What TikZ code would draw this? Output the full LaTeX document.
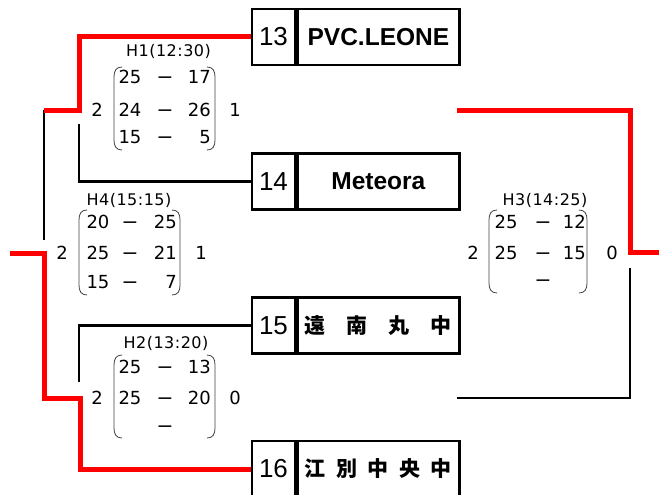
\documentclass[tikz,border=0pt]{standalone}
\usepackage{fontspec}
\setmainfont{Liberation Sans}
\newfontfamily\jpfont{Noto Sans CJK JP}
\newfontfamily\scorefont{DejaVu Sans}
\newfontfamily\tagfont[LetterSpace=3]{DejaVu Sans}
\usetikzlibrary{positioning}

\begin{document}
\begin{tikzpicture}[x=1pt,y=-1pt]
\tikzstyle{every node}+=[inner sep=0pt]
\tikzstyle{teamno}=[draw,line width=2.4pt,minimum width=43pt,minimum height=56pt,font=\fontsize{26}{26}\selectfont]
\tikzstyle{teamname}=[draw,line width=2.4pt,minimum width=162pt,minimum height=56pt,font=\bfseries\fontsize{24.5}{24.5}\selectfont]
\tikzstyle{matchtag}=[anchor=base,font=\tagfont\fontsize{16}{16}\selectfont]
\tikzstyle{setno}=[font=\scorefont\fontsize{18}{18}\selectfont]
\tikzstyle{setdash}=[anchor=base,font=\fontsize{23}{23}\selectfont]
\tikzstyle{paren}=[line width=0.8pt,black!75]
\tikzstyle{wonline}=[red,line width=5pt]
\tikzstyle{lostline}=[black,line width=2.4pt]
\useasboundingbox (0,0) rectangle (659,495);
% teams
\node [teamno] (n13) at (273.5,37) {13};
\node [teamname,right=0pt of n13] (t13) {PVC.LEONE};
\node [teamno] (n14) at (273.5,181.5) {14};
\node [teamname,right=0pt of n14] (t14) {Meteora};
\node [teamno] (n15) at (273.5,325.5) {15};
\node [teamname,right=0pt of n15] (t15) {\jpfont\fontsize{21}{21}\selectfont 遠　南　丸　中};
\node [teamno] (n16) at (273.5,469) {16};
\node [teamname,right=0pt of n16] (t16) {\jpfont\fontsize{21}{21}\selectfont 江\kern10.5pt 別\kern10.5pt 中\kern10.5pt 央\kern10.5pt 中};
% joints
\coordinate (j1) at (79,110);
\coordinate (j1b) at (79,124);
\coordinate (j4a) at (44,110);
\coordinate (j4b) at (44,240);
\coordinate (j4c) at (44,253);
\coordinate (f4) at (10,253);
\coordinate (j2) at (80,398);
\coordinate (j2b) at (79,382);
\coordinate (j3a) at (457,110);
\coordinate (j3) at (630,252);
\coordinate (f3) at (659,252);
\coordinate (j3b) at (630,268);
\coordinate (j3c) at (457,398);
\draw [lostline] (j1b) |- (n14.west);
\draw [lostline] (j4a) -- (j4b);
\draw [lostline] (n15.west) -| (j2b);
\draw [lostline] (j3b) |- (j3c);
\draw [wonline] (n13.west) -| (j1) -- (j4a);
\draw [wonline] (f4) -- (j4c) |- (j2) |- (n16.west);
\draw [wonline] (j3a) -| (j3) -- (f3);
% H1
\begin{scope}[shift={(114,77)}]
\node [matchtag] (h1) at (54.5,-20) {H1(12:30)};
\node [setno] (h1w) at (-17,33) {2};
\node [setno] (h1l) at (121,33) {1};
\node [setno] (h1a1) at (16,0) {25};
\node [setdash] (h1d1) at (51,6.5) {–};
\node [setno,anchor=east] (h1b1) at (97,0) {17};
\node [setno] (h1a2) at (16,33) {24};
\node [setdash] (h1d2) at (51,39.5) {–};
\node [setno,anchor=east] (h1b2) at (97,33) {26};
\node [setno] (h1a3) at (16,60) {15};
\node [setdash] (h1d3) at (51,66.5) {–};
\node [setno,anchor=east] (h1b3) at (97,60) {5};
\draw [paren] (8,-10) .. controls (2,-10) and (0,-6) .. (0,0) -- (0,63) .. controls (0,69) and (2,73) .. (8,73);
\draw [paren] (93,-10) .. controls (99,-10) and (101,-6) .. (101,0) -- (101,63) .. controls (101,69) and (99,73) .. (93,73);
\end{scope}
% H4
\begin{scope}[shift={(79,222)}]
\node [matchtag] (h4) at (50,-17) {H4(15:15)};
\node [setno] (h4w) at (-17,31) {2};
\node [setno] (h4l) at (122,31) {1};
\node [setno] (h4a1) at (19,0) {20};
\node [setdash] (h4d1) at (51,6.5) {–};
\node [setno,anchor=east] (h4b1) at (98,0) {25};
\node [setno] (h4a2) at (19,31) {25};
\node [setdash] (h4d2) at (51,37.5) {–};
\node [setno,anchor=east] (h4b2) at (98,31) {21};
\node [setno] (h4a3) at (19,60) {15};
\node [setdash] (h4d3) at (51,66.5) {–};
\node [setno,anchor=east] (h4b3) at (98,60) {7};
\draw [paren] (8,-12) .. controls (2,-12) and (0,-8) .. (0,-2) -- (0,63) .. controls (0,69) and (2,73) .. (8,73);
\draw [paren] (93,-12) .. controls (99,-12) and (101,-8) .. (101,-2) -- (101,63) .. controls (101,69) and (99,73) .. (93,73);
\end{scope}
% H2
\begin{scope}[shift={(114,367)}]
\node [matchtag] (h2) at (52,-19) {H2(13:20)};
\node [setno] (h2w) at (-17,31) {2};
\node [setno] (h2l) at (121,31) {0};
\node [setno] (h2a1) at (16,0) {25};
\node [setdash] (h2d1) at (51,6.5) {–};
\node [setno,anchor=east] (h2b1) at (97,0) {13};
\node [setno] (h2a2) at (16,31) {25};
\node [setdash] (h2d2) at (51,37.5) {–};
\node [setno,anchor=east] (h2b2) at (97,31) {20};
\node [setdash] (h2d3) at (51,65) {–};
\draw [paren] (8,-12) .. controls (2,-12) and (0,-8) .. (0,-2) -- (0,61) .. controls (0,67) and (2,71) .. (8,71);
\draw [paren] (93,-12) .. controls (99,-12) and (101,-8) .. (101,-2) -- (101,61) .. controls (101,67) and (99,71) .. (93,71);
\end{scope}
% H3
\begin{scope}[shift={(489,222)}]
\node [matchtag] (h3) at (56,-17) {H3(14:25)};
\node [setno] (h3w) at (-16,31) {2};
\node [setno] (h3l) at (123,31) {0};
\node [setno] (h3a1) at (17,0) {25};
\node [setdash] (h3d1) at (54,6.5) {–};
\node [setno,anchor=east] (h3b1) at (97,0) {12};
\node [setno] (h3a2) at (17,31) {25};
\node [setdash] (h3d2) at (54,37.5) {–};
\node [setno,anchor=east] (h3b2) at (97,31) {15};
\node [setdash] (h3d3) at (54,64) {–};
\draw [paren] (8,-12) .. controls (2,-12) and (0,-8) .. (0,-2) -- (0,61) .. controls (0,67) and (2,71) .. (8,71);
\draw [paren] (90,-12) .. controls (96,-12) and (98,-8) .. (98,-2) -- (98,61) .. controls (98,67) and (96,71) .. (90,71);
\end{scope}
\end{tikzpicture}
\end{document}
